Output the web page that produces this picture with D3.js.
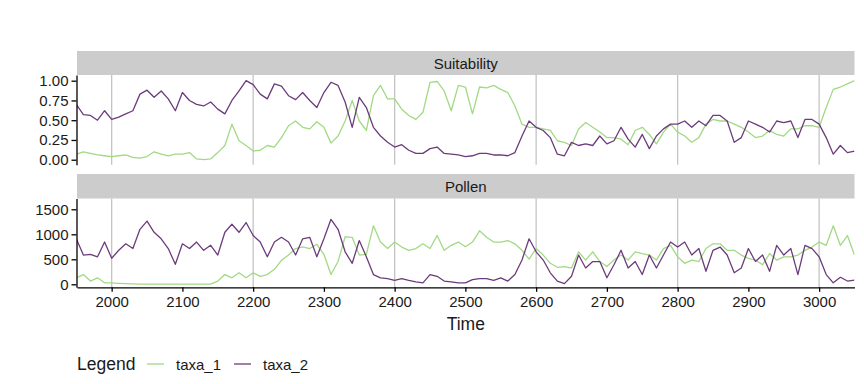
<!DOCTYPE html>
<html>
<head>
<meta charset="utf-8">
<script src="https://cdn.jsdelivr.net/npm/d3@7"></script>
<style>
  body { margin: 0; background: #fff; }
  text { font-family: "Liberation Sans", Arial, sans-serif; fill: #1a1a1a; }
</style>
</head>
<body>
<svg id="chart" width="864" height="384"></svg>
<script>
// time axis (years), one reading every 10 years
const years = [1950, 1960, 1970, 1980, 1990, 2000, 2010, 2020, 2030, 2040,
  2050, 2060, 2070, 2080, 2090, 2100, 2110, 2120, 2130, 2140,
  2150, 2160, 2170, 2180, 2190, 2200, 2210, 2220, 2230, 2240,
  2250, 2260, 2270, 2280, 2290, 2300, 2310, 2320, 2330, 2340,
  2350, 2360, 2370, 2380, 2390, 2400, 2410, 2420, 2430, 2440,
  2450, 2460, 2470, 2480, 2490, 2500, 2510, 2520, 2530, 2540,
  2550, 2560, 2570, 2580, 2590, 2600, 2610, 2620, 2630, 2640,
  2650, 2660, 2670, 2680, 2690, 2700, 2710, 2720, 2730, 2740,
  2750, 2760, 2770, 2780, 2790, 2800, 2810, 2820, 2830, 2840,
  2850, 2860, 2870, 2880, 2890, 2900, 2910, 2920, 2930, 2940,
  2950, 2960, 2970, 2980, 2990, 3000, 3010, 3020, 3030, 3040, 3050];

const suitTaxa1 = [0.07, 0.10, 0.08, 0.06, 0.05, 0.04, 0.05, 0.06, 0.03, 0.02,
  0.04, 0.10, 0.07, 0.05, 0.07, 0.07, 0.09, 0.01, 0.00, 0.01,
  0.09, 0.18, 0.45, 0.24, 0.18, 0.11, 0.12, 0.18, 0.16, 0.28,
  0.43, 0.49, 0.41, 0.39, 0.48, 0.41, 0.21, 0.30, 0.49, 0.75,
  0.49, 0.37, 0.81, 0.94, 0.77, 0.77, 0.64, 0.56, 0.51, 0.60,
  0.98, 0.99, 0.87, 0.62, 0.94, 0.92, 0.58, 0.92, 0.91, 0.94,
  0.89, 0.85, 0.68, 0.45, 0.41, 0.41, 0.39, 0.37, 0.24, 0.22,
  0.18, 0.39, 0.47, 0.41, 0.35, 0.28, 0.28, 0.26, 0.19, 0.37,
  0.41, 0.32, 0.20, 0.35, 0.45, 0.35, 0.30, 0.22, 0.28, 0.45,
  0.51, 0.49, 0.49, 0.45, 0.41, 0.35, 0.28, 0.30, 0.37, 0.32,
  0.30, 0.39, 0.39, 0.43, 0.43, 0.41, 0.66, 0.89, 0.92, 0.96, 1.00];

const suitTaxa2 = [0.70, 0.57, 0.56, 0.50, 0.62, 0.51, 0.54, 0.58, 0.62, 0.83,
  0.88, 0.79, 0.87, 0.77, 0.62, 0.85, 0.75, 0.70, 0.68, 0.73,
  0.64, 0.58, 0.75, 0.87, 1.00, 0.95, 0.83, 0.77, 0.96, 0.93,
  0.81, 0.76, 0.85, 0.75, 0.66, 0.85, 0.98, 0.94, 0.73, 0.41,
  0.79, 0.66, 0.41, 0.30, 0.22, 0.16, 0.19, 0.12, 0.08, 0.08,
  0.14, 0.16, 0.08, 0.07, 0.06, 0.04, 0.05, 0.08, 0.08, 0.06,
  0.06, 0.05, 0.09, 0.30, 0.49, 0.41, 0.37, 0.28, 0.07, 0.05,
  0.22, 0.18, 0.20, 0.18, 0.30, 0.20, 0.24, 0.41, 0.26, 0.16,
  0.32, 0.14, 0.30, 0.39, 0.45, 0.45, 0.49, 0.41, 0.49, 0.43,
  0.56, 0.56, 0.49, 0.22, 0.28, 0.49, 0.45, 0.41, 0.35, 0.49,
  0.47, 0.49, 0.28, 0.51, 0.51, 0.45, 0.28, 0.07, 0.18, 0.09, 0.11];

const pollenTaxa1 = [130, 195, 65, 130, 30, 30, 20, 13, 8, 5,
  5, 5, 3, 3, 3, 3, 3, 3, 3, 3,
  65, 195, 130, 230, 130, 230, 160, 195, 300, 480,
  585, 715, 750, 715, 800, 600, 195, 455, 950, 940,
  585, 600, 1170, 845, 715, 845, 745, 680, 715, 810,
  715, 975, 680, 780, 845, 750, 845, 1070, 940, 845,
  845, 875, 810, 680, 505, 715, 585, 420, 340, 355,
  325, 650, 485, 650, 455, 355, 485, 585, 485, 650,
  615, 585, 485, 715, 780, 550, 420, 485, 455, 715,
  810, 810, 680, 680, 585, 520, 485, 390, 615, 485,
  550, 550, 585, 680, 745, 845, 780, 1170, 780, 975, 585];

const pollenTaxa2 = [910, 585, 600, 550, 845, 520, 680, 810, 715, 1100,
  1265, 1040, 910, 715, 400, 810, 715, 845, 680, 780,
  585, 1040, 1200, 1040, 1235, 975, 845, 550, 845, 940,
  845, 585, 910, 940, 550, 910, 1300, 1100, 650, 420,
  875, 550, 195, 130, 115, 80, 115, 80, 50, 30,
  195, 160, 65, 50, 30, 30, 95, 115, 115, 80,
  130, 65, 195, 485, 910, 650, 485, 230, 65, 13,
  160, 585, 325, 455, 455, 130, 390, 680, 325, 455,
  195, 585, 325, 585, 845, 745, 845, 585, 715, 260,
  680, 745, 585, 230, 325, 715, 455, 585, 260, 780,
  585, 715, 195, 780, 715, 550, 195, 30, 140, 65, 85];

const xTicks = [2000, 2100, 2200, 2300, 2400, 2500, 2600, 2700, 2800, 2900, 3000];
const xGrid = [2000, 2200, 2400, 2600, 2800, 3000];
const suitTicks = [0, 0.25, 0.5, 0.75, 1];
const pollenTicks = [0, 500, 1000, 1500];
const seriesNames = ["taxa_1", "taxa_2"];
const colors = { taxa_1: "#a2d983", taxa_2: "#6c3b7c" };

const svg = d3.select("#chart");
const left = 77, right = 854.5;

const x = d3.scaleLinear().domain([1951, 3050]).range([left, right]);

const panels = [
  { name: "Suitability", stripTop: 51, top: 75, bottom: 164.7,
    domain: [-0.063, 1.072], ticks: suitTicks, fmt: d3.format(".2f"),
    series: [suitTaxa1, suitTaxa2], xAxis: false },
  { name: "Pollen", stripTop: 174, top: 198.5, bottom: 287.3,
    domain: [-60, 1716], ticks: pollenTicks, fmt: d3.format("d"),
    series: [pollenTaxa1, pollenTaxa2], xAxis: true }
];

panels.forEach((p, i) => {
  const y = d3.scaleLinear().domain(p.domain).range([p.bottom, p.top]);
  const g = svg.append("g");

  // strip
  g.append("rect")
    .attr("x", left).attr("y", p.stripTop)
    .attr("width", right - left).attr("height", p.top - p.stripTop)
    .attr("fill", "#cccccc");
  g.append("text")
    .attr("x", (left + right) / 2).attr("y", (p.stripTop + p.top) / 2 + 5.5)
    .attr("text-anchor", "middle")
    .style("font-size", "15px")
    .text(p.name);

  // vertical grid lines
  g.selectAll(".grid")
    .data(xGrid)
    .enter()
    .append("line")
    .attr("x1", d => x(d)).attr("x2", d => x(d))
    .attr("y1", p.top).attr("y2", p.bottom)
    .attr("stroke", "#c4c4c4")
    .attr("stroke-width", 1.3);

  const clipId = "clip" + i;
  svg.append("clipPath").attr("id", clipId)
    .append("rect")
    .attr("x", left).attr("y", p.top)
    .attr("width", right - left).attr("height", p.bottom - p.top);

  const line = d3.line()
    .x((d, j) => x(years[j]))
    .y(d => y(d));

  p.series.forEach((vals, k) => {
    g.append("path")
      .datum(vals)
      .attr("clip-path", `url(#${clipId})`)
      .attr("fill", "none")
      .attr("stroke", colors[seriesNames[k]])
      .attr("stroke-width", 1.3)
      .attr("stroke-linejoin", "round")
      .attr("d", line);
  });

  // y axis
  const yAxis = g.append("g")
    .attr("transform", `translate(${left - 0.5},0)`)
    .call(d3.axisLeft(y).tickValues(p.ticks).tickFormat(p.fmt)
      .tickSize(5).tickSizeOuter(0).tickPadding(3));
  yAxis.select(".domain").attr("stroke", "#000").attr("stroke-width", 1.3);
  yAxis.selectAll(".tick line").attr("stroke", "#000").attr("stroke-width", 1.3);
  yAxis.selectAll(".tick text")
    .style("font-size", "15px")
    .attr("fill", "#1a1a1a")
    .attr("font-family", null);

  if (p.xAxis) {
    const xAxis = g.append("g")
      .attr("transform", `translate(0,${p.bottom})`)
      .call(d3.axisBottom(x).tickValues(xTicks).tickFormat(d3.format("d"))
        .tickSize(4.5).tickSizeOuter(0).tickPadding(5));
    xAxis.select(".domain").attr("stroke", "#000").attr("stroke-width", 1.3);
    xAxis.selectAll(".tick line").attr("stroke", "#000").attr("stroke-width", 1.3);
    xAxis.selectAll(".tick text")
      .style("font-size", "15px")
      .attr("fill", "#1a1a1a")
      .attr("font-family", null);
  }
});

// axis title
svg.append("text")
  .attr("x", (left + right) / 2).attr("y", 330)
  .attr("text-anchor", "middle")
  .style("font-size", "17.5px")
  .text("Time");

// legend
const legend = svg.append("g");
legend.append("text")
  .attr("x", 77).attr("y", 370)
  .style("font-size", "17.5px")
  .text("Legend");

const keyX = [147, 234];
seriesNames.forEach((s, k) => {
  legend.append("line")
    .attr("x1", keyX[k]).attr("x2", keyX[k] + 17)
    .attr("y1", 364).attr("y2", 364)
    .attr("stroke", colors[s])
    .attr("stroke-width", 1.3);
  legend.append("text")
    .attr("x", keyX[k] + 29).attr("y", 369.5)
    .style("font-size", "15px")
    .text(s);
});
</script>
</body>
</html>
